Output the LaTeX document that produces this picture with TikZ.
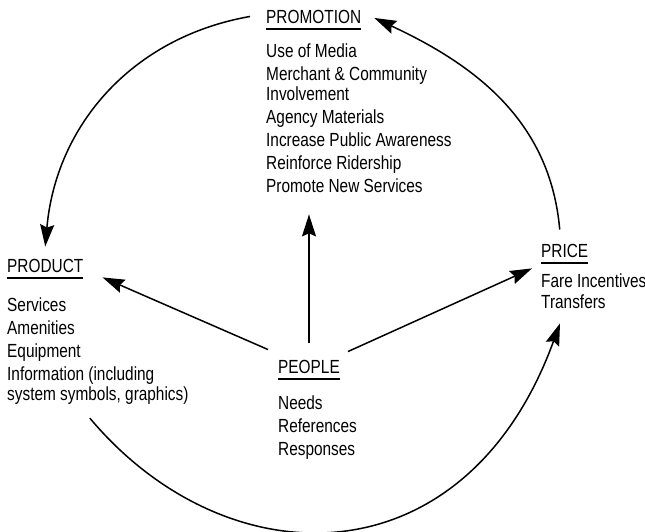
\documentclass[tikz,border=0pt]{standalone}
\usepackage{fontspec}
\setmainfont[FakeStretch=0.81]{Liberation Sans}
\usetikzlibrary{arrows.meta}
\tikzset{
  head/.style={anchor=base west,inner xsep=0pt,inner ysep=6pt},
  items/.style={anchor=base west,inner sep=0pt,align=left},
  arr/.style={line width=1.5pt,-{Stealth[length=22pt,width=14pt,inset=3pt]}}
}
\begin{document}
\begin{tikzpicture}[x=1pt,y=1pt,font=\fontsize{19}{19.5}\selectfont]
\useasboundingbox (0,0) rectangle (645,-531);
% headings
\node[head](promo) at (266,-23){PROMOTION};
\node[head](product) at (7,-272){PRODUCT};
\node[head](people) at (278,-373){PEOPLE};
\node[head](price) at (541,-257){PRICE};
\foreach \n in {promo,product,people,price}
  \draw[line width=1.8pt](\n.south west)--(\n.south east);
% lists (placed at the baseline of their last line)
\node[items](promolist) at (266,-192){Use of Media\\[3.5pt]
  Merchant \& Community\\Involvement\\[3.5pt]
  Agency Materials\\[3.5pt]
  Increase Public Awareness\\[3.5pt]
  Reinforce Ridership\\[3.5pt]
  Promote New Services};
\node[items](productlist) at (7,-400){Services\\[3.5pt]
  Amenities\\[3.5pt]
  Equipment\\[3.5pt]
  Information (including\\system symbols, graphics)};
\node[items](peoplelist) at (278,-455){Needs\\[3.5pt]
  References\\[3.5pt]
  Responses};
\node[items](pricelist) at (541,-308){Fare Incentives\\[1.5pt]
  Transfers};
% people in the middle
\draw[arr,shorten >=22pt]([yshift=11pt]people.north)--(people.north |- promolist.south);
\draw[arr]([shift={(-10pt,4pt)}]people.north west)--([shift={(19pt,1pt)}]product.south east);
\draw[arr]([shift={(8pt,2pt)}]people.north east)--([shift={(-9pt,-5pt)}]price.south west);
% outer ring
\draw[arr]([xshift=-16pt]promo.west) to[out=190,in=85] ([yshift=6pt]product.north);
\draw[arr]([shift={(-5pt,8pt)}]price.north) to[out=95,in=-25] ([shift={(13pt,-1.5pt)}]promo.east);
\draw[arr]([shift={(-8pt,-14pt)}]productlist.south)
  .. controls +(-50:214) and +(250:276) .. ([shift={(19pt,-15pt)}]pricelist.south west);
\end{tikzpicture}
\end{document}
